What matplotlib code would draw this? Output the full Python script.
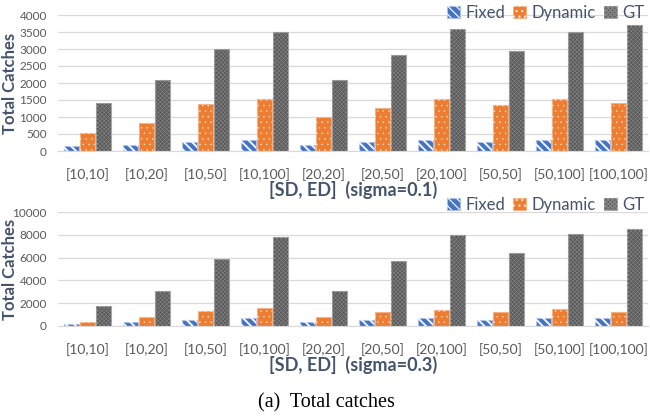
import numpy as np
import matplotlib as mpl
mpl.use('Agg')
import matplotlib.pyplot as plt
from matplotlib.patches import Patch

mpl.rcParams['font.family'] = ['Lato', 'DejaVu Sans']
mpl.rcParams['hatch.linewidth'] = 0.9

categories = ['[10,10]', '[10,20]', '[10,50]', '[10,100]', '[20,20]',
              '[20,50]', '[20,100]', '[50,50]', '[50,100]', '[100,100]']
series = ['Fixed', 'Dynamic', 'GT']

# sigma = 0.1
fixed_01 = [140, 190, 275, 325, 190, 265, 315, 265, 315, 325]
dynamic_01 = [520, 835, 1385, 1530, 1000, 1265, 1525, 1345, 1515, 1405]
gt_01 = [1425, 2090, 3000, 3490, 2075, 2810, 3580, 2930, 3490, 3700]

# sigma = 0.3
fixed_03 = [175, 320, 530, 705, 320, 530, 705, 500, 705, 735]
dynamic_03 = [380, 790, 1320, 1585, 765, 1200, 1410, 1200, 1465, 1235]
gt_03 = [1760, 3080, 5895, 7830, 3050, 5690, 7975, 6395, 8095, 8535]

# face, edge, hatch, hatch colour, hatch width
styles = [('#4472C4', '#A9BDE6', '\\' * 4, '#F2F5FC', 1.4),
          ('#ED7D31', '#F4B183', '...', '#FCE3D2', 0.3),
          ('#5A5A5A', '#A6A6A6', 'x' * 8, '#858585', 0.4)]

TXT = '#595959'
LAB = '#44546A'


def hatch_patch(p, hw):
    if hasattr(p, 'set_hatch_linewidth'):
        p.set_hatch_linewidth(hw)


def draw(ax, data, ymax, step, xlabel):
    x = np.arange(len(categories))
    w = 0.245
    for k, vals in enumerate(data):
        face, edge, hatch, hc, hw = styles[k]
        pos = x + (k - 1) * 0.27
        ax.bar(pos, vals, w, color=face, edgecolor=edge, linewidth=0.8, zorder=2)
        bars = ax.bar(pos, vals, w, color='none', edgecolor=hc, hatch=hatch,
                      linewidth=0, zorder=3)
        for b in bars:
            hatch_patch(b, hw)
    ax.set_xlim(-0.5, len(categories) - 0.5)
    ax.set_ylim(0, ymax)
    ax.set_yticks(np.arange(0, ymax + 1, step))
    ax.set_xticks(x)
    ax.set_xticklabels(categories, fontsize=10, color=TXT)
    ax.tick_params(axis='y', labelsize=8.5, labelcolor=TXT, length=0, pad=8)
    ax.tick_params(axis='x', length=0, pad=12)
    ax.grid(axis='y', color='#D9D9D9', linewidth=0.9, zorder=0)
    for s in ['top', 'right', 'left']:
        ax.spines[s].set_visible(False)
    ax.spines['bottom'].set_color('#D9D9D9')
    ax.set_ylabel('Total Catches', fontsize=12, fontweight='bold', color=LAB)
    ax.yaxis.set_label_coords(-0.068, 0.5)
    ax.set_xlabel(xlabel, fontsize=13, fontweight='bold', color=LAB, labelpad=0)


def legend(fig, y):
    handles = []
    for face, edge, hatch, hc, hw in styles:
        hp = Patch(facecolor='none', edgecolor=hc, hatch=hatch, linewidth=0)
        hatch_patch(hp, hw)
        handles.append((Patch(facecolor=face, edgecolor=edge, linewidth=0.8), hp))
    fig.legend(handles, series, loc='center left', bbox_to_anchor=(447 / 650, y),
               ncol=3, frameon=False, fontsize=12, handlelength=0.75, handleheight=0.75,
               handletextpad=0.35, columnspacing=0.5, labelcolor=LAB, borderpad=0,
               borderaxespad=0)


fig = plt.figure(figsize=(6.5, 4.2), dpi=100)
ax1 = fig.add_axes([58 / 650, 1 - 151 / 420, 590 / 650, 136 / 420])
ax2 = fig.add_axes([58 / 650, 1 - 326 / 420, 590 / 650, 114 / 420])

draw(ax1, [fixed_01, dynamic_01, gt_01], 4000, 500, '[SD, ED]  (sigma=0.1)')
draw(ax2, [fixed_03, dynamic_03, gt_03], 10000, 2000, '[SD, ED]  (sigma=0.3)')

legend(fig, 1 - 13 / 420)
legend(fig, 1 - 205 / 420)

fig.text(326 / 650, 1 - 403 / 420, '(a)  Total catches', ha='center', va='center',
         fontsize=14.5, family='Liberation Serif')

fig.savefig('out.png', dpi=100)
